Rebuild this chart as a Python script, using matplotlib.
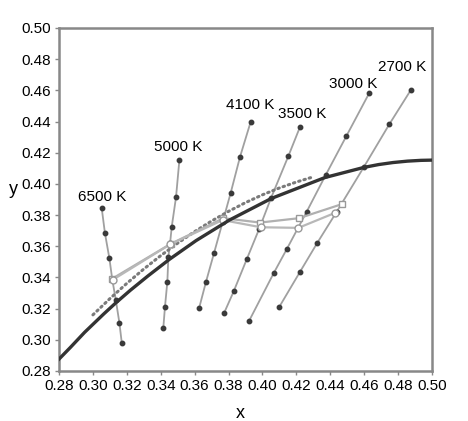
import matplotlib
matplotlib.use("Agg")
import matplotlib.pyplot as plt

plt.rcParams["font.family"] = ["Liberation Sans", "DejaVu Sans"]

# Planckian locus (x, y)
locus_x = [0.2750, 0.2807, 0.2867, 0.2951, 0.3064, 0.3135, 0.3221, 0.3325,
           0.3451, 0.3608, 0.3805, 0.4053, 0.4369, 0.4599, 0.4685, 0.4770,
           0.4855, 0.4935, 0.5018]
locus_y = [0.2820, 0.2884, 0.2951, 0.3048, 0.3166, 0.3237, 0.3318, 0.3410,
           0.3516, 0.3636, 0.3768, 0.3907, 0.4041, 0.4106, 0.4124, 0.4137,
           0.4146, 0.4151, 0.4153]

# daylight locus (dotted)
day_x = [0.300, 0.310, 0.320, 0.330, 0.340, 0.350, 0.360, 0.370,
         0.380, 0.390, 0.400, 0.410, 0.420, 0.429]
day_y = [0.3160, 0.3264, 0.3362, 0.3454, 0.3540, 0.3620, 0.3694, 0.3762,
         0.3824, 0.3880, 0.3930, 0.3974, 0.4012, 0.4042]

# isotemperature lines with dots
cct_labels = ["6500 K", "5000 K", "4100 K", "3500 K", "3000 K", "2700 K"]
cct_x = [
    [0.3052, 0.3071, 0.3097, 0.3114, 0.3135, 0.3156, 0.3170],
    [0.3510, 0.3490, 0.3465, 0.3455, 0.3445, 0.3439, 0.3425, 0.3415],
    [0.3931, 0.3868, 0.3813, 0.3765, 0.3715, 0.3667, 0.3626],
    [0.4222, 0.4153, 0.4050, 0.3980, 0.3907, 0.3830, 0.3773],
    [0.4629, 0.4495, 0.4373, 0.4261, 0.4143, 0.4066, 0.3921],
    [0.4875, 0.4749, 0.4599, 0.4437, 0.4324, 0.4222, 0.4098],
]
cct_y = [
    [0.3843, 0.3683, 0.3523, 0.3388, 0.3255, 0.3110, 0.2982],
    [0.4153, 0.3914, 0.3726, 0.3619, 0.3533, 0.3373, 0.3212, 0.3074],
    [0.4400, 0.4175, 0.3944, 0.3755, 0.3559, 0.3372, 0.3202],
    [0.4367, 0.4179, 0.3908, 0.3710, 0.3516, 0.3310, 0.3170],
    [0.4581, 0.4307, 0.4057, 0.3822, 0.3581, 0.3427, 0.3121],
    [0.4602, 0.4384, 0.4110, 0.3820, 0.3623, 0.3437, 0.3209],
]
label_x = [0.3052, 0.3504, 0.3927, 0.4234, 0.4535, 0.4826]
label_y = [0.3918, 0.4234, 0.4506, 0.4447, 0.4639, 0.4752]

# measured points (squares and circles)
sq_x = [0.3114, 0.3458, 0.3770, 0.3986, 0.4215, 0.4468]
sq_y = [0.3392, 0.3615, 0.3780, 0.3752, 0.3780, 0.3870]
ci_x = [0.3117, 0.3455, 0.3765, 0.3990, 0.4212, 0.4430]
ci_y = [0.3385, 0.3612, 0.3768, 0.3722, 0.3718, 0.3815]

fig = plt.figure(figsize=(4.68, 4.21), dpi=100)
ax = fig.add_axes([0.1261, 0.1188, 0.797, 0.8147])

for i in range(len(cct_labels)):
    ax.plot(cct_x[i], cct_y[i], color="#a0a0a0", lw=1.3, marker="o",
            markersize=3.2, markerfacecolor="#3a3a3a", markeredgecolor="#3a3a3a",
            zorder=2)
    ax.text(label_x[i], label_y[i], cct_labels[i], fontsize=11,
            ha="center", va="center", zorder=5)

ax.plot(day_x, day_y, color="#7a7a7a", lw=2.2, linestyle=(0, (0.5, 1.3)),
        dash_capstyle="round", zorder=3)
ax.plot(locus_x, locus_y, color="#333333", lw=2.4, zorder=4)

ax.plot(sq_x, sq_y, color="#b0b0b0", lw=1.6, marker="s", markersize=5,
        markerfacecolor="white", markeredgecolor="#999999", zorder=3)
ax.plot(ci_x, ci_y, color="#b8b8b8", lw=1.6, marker="o", markersize=5,
        markerfacecolor="white", markeredgecolor="#999999", zorder=3)

ax.set_xlim(0.28, 0.50)
ax.set_ylim(0.28, 0.50)
ticks = [0.28, 0.30, 0.32, 0.34, 0.36, 0.38, 0.40, 0.42, 0.44, 0.46, 0.48, 0.50]
ax.set_xticks(ticks)
ax.set_yticks(ticks)
ax.set_xticklabels([f"{t:.2f}" for t in ticks])
ax.set_yticklabels([f"{t:.2f}" for t in ticks])
ax.tick_params(direction="out", length=3, width=1, color="#888888",
               labelsize=11, pad=3)
for s in ax.spines.values():
    s.set_color("#888888")
    s.set_linewidth(1.8)

ax.set_xlabel("x", fontsize=13)
ax.set_ylabel("y", fontsize=13, rotation=0)
ax.xaxis.set_label_coords(0.485, -0.099)
ax.yaxis.set_label_coords(-0.123, 0.504)

fig.savefig("out.png", dpi=100)
